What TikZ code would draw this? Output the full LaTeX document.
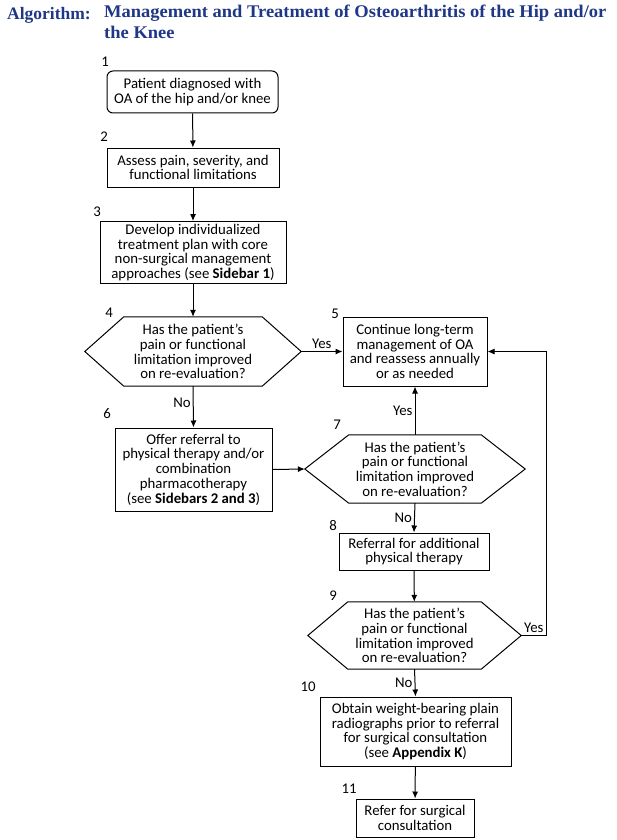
\documentclass[tikz,border=0pt]{standalone}
\usepackage{fontspec}
\setmainfont{Carlito}
\newfontfamily\titlefont{Liberation Serif}
\newfontfamily\titlewide[FakeStretch=1.04]{Liberation Serif}
\usepackage{tikz}
\usetikzlibrary{arrows.meta}
\usetikzlibrary{calc}
\definecolor{titleblue}{RGB}{30,55,135}
\newcommand{\hexof}[2]{\draw[box line] (#1.west) -- ([xshift=#2pt]#1.north west) -- ([xshift=-#2pt]#1.north east) -- (#1.east) -- ([xshift=-#2pt]#1.south east) -- ([xshift=#2pt]#1.south west) -- cycle;}
\tikzset{
	>={Latex[length=7pt,width=6pt]},
    box line/.style={draw=black, line width=1pt},
    block/.style={box line, align=center, inner sep=0pt, font=\fontsize{14.8}{14.7}\selectfont},
    startblock/.style={block, rounded corners=6pt},
    decision/.style={align=center, inner sep=0pt, font=\fontsize{14.8}{14.7}\selectfont},
    flow/.style={draw=black, line width=1pt, ->},
    stepnum/.style={inner sep=0pt, font=\fontsize{14.8}{15}\selectfont},
    answer/.style={inner sep=2pt, font=\fontsize{14.8}{15}\selectfont}
}

\begin{document}
\begin{tikzpicture}[x=1pt,y=-1pt]
	\useasboundingbox (0,0) rectangle (617,840);
	% title
	\node[anchor=west, inner sep=0pt, text=titleblue, font=\titlefont\bfseries\fontsize{17.5}{20.5}\selectfont] (tlabel) at (7,15) {Algorithm:};
	\node[anchor=north west, align=left, inner sep=0pt, text=titleblue, font=\titlewide\bfseries\fontsize{17.8}{20.5}\selectfont] (ttext) at (104,5) {Management and Treatment of Osteoarthritis of the Hip and/or\\the Knee};
	% left column
	\node[startblock, minimum width=171pt, minimum height=42pt] (b1) at (192.5,92) {Patient diagnosed with\\OA of the hip and/or knee};
	\node[block, minimum width=172pt, minimum height=39pt] (b2) at (193,167.5) {Assess pain, severity, and\\functional limitations};
	\node[block, minimum width=186pt, minimum height=62pt] (b3) at (193,252.5) {Develop individualized\\treatment plan with core\\non-surgical management\\approaches (see \textbf{Sidebar 1})};
	\node[decision, minimum width=216pt, minimum height=69pt] (q4) at (193,351.5) {Has the patient's\\pain or functional\\limitation improved\\on re-evaluation?};
	\hexof{q4}{39}
	\node[block, minimum width=157pt, minimum height=83pt] (b6) at (193.5,469.5) {Offer referral to\\physical therapy and/or\\combination\\pharmacotherapy\\(see \textbf{Sidebars 2 and 3})};
	% right column
	\node[block, minimum width=144pt, minimum height=69pt] (b5) at (415,351.5) {Continue long-term\\management of OA\\and reassess annually\\or as needed};
	\node[decision, minimum width=220pt, minimum height=68pt] (q7) at (415,469) {Has the patient's\\pain or functional\\limitation improved\\on re-evaluation?};
	\hexof{q7}{44}
	\node[block, minimum width=150pt, minimum height=37pt] (b8) at (414,551.5) {Referral for additional\\physical therapy};
	\node[decision, minimum width=213pt, minimum height=67pt] (q9) at (414.5,635.5) {Has the patient's\\pain or functional\\limitation improved\\on re-evaluation?};
	\hexof{q9}{40}
	\node[block, minimum width=191pt, minimum height=69pt] (b10) at (415.5,731.5) {Obtain weight-bearing plain\\radiographs prior to referral\\for surgical consultation\\(see \textbf{Appendix K})};
	\node[block, minimum width=118pt, minimum height=38pt] (b11) at (415,818) {Refer for surgical\\consultation};
	% step numbers
	\node[stepnum] (n1) at (105,62) {1};
	\node[stepnum] (n2) at (104,137) {2};
	\node[stepnum] (n3) at (97,212) {3};
	\node[stepnum] (n4) at (109,313) {4};
	\node[stepnum] (n5) at (335,314) {5};
	\node[stepnum] (n6) at (107,414) {6};
	\node[stepnum] (n7) at (337,425) {7};
	\node[stepnum] (n8) at (333,525) {8};
	\node[stepnum] (n9) at (333,596) {9};
	\node[stepnum] (n10) at (308,687) {10};
	\node[stepnum] (n11) at (349,789) {11};
	% connectors
	\coordinate (c9) at (546,635.5);
	\draw[flow] (b1) -- (b2);
	\draw[flow] (b2) -- (b3);
	\draw[flow] (b3) -- (q4);
	\draw[flow] (q4.east) -- node[answer, above] {Yes} (b5.west);
	\draw[flow] (q4.south) -- node[answer, left, pos=0.4] {No} (b6.north);
	\draw[flow] (b6.east) -- (q7.west);
	\draw[flow] (q7.north) -- node[answer, left] {Yes} (b5.south);
	\draw[flow] (q7.south) -- node[answer, left] {No} (b8.north);
	\draw[flow] (b8) -- (q9);
	\draw[flow] (q9.east) -- (c9) node[answer, above left] {Yes} |- (b5.east);
	\draw[flow] (q9.south) -- node[answer, left] {No} (b10.north);
	\draw[flow] (b10) -- (b11);
\end{tikzpicture}
\end{document}
